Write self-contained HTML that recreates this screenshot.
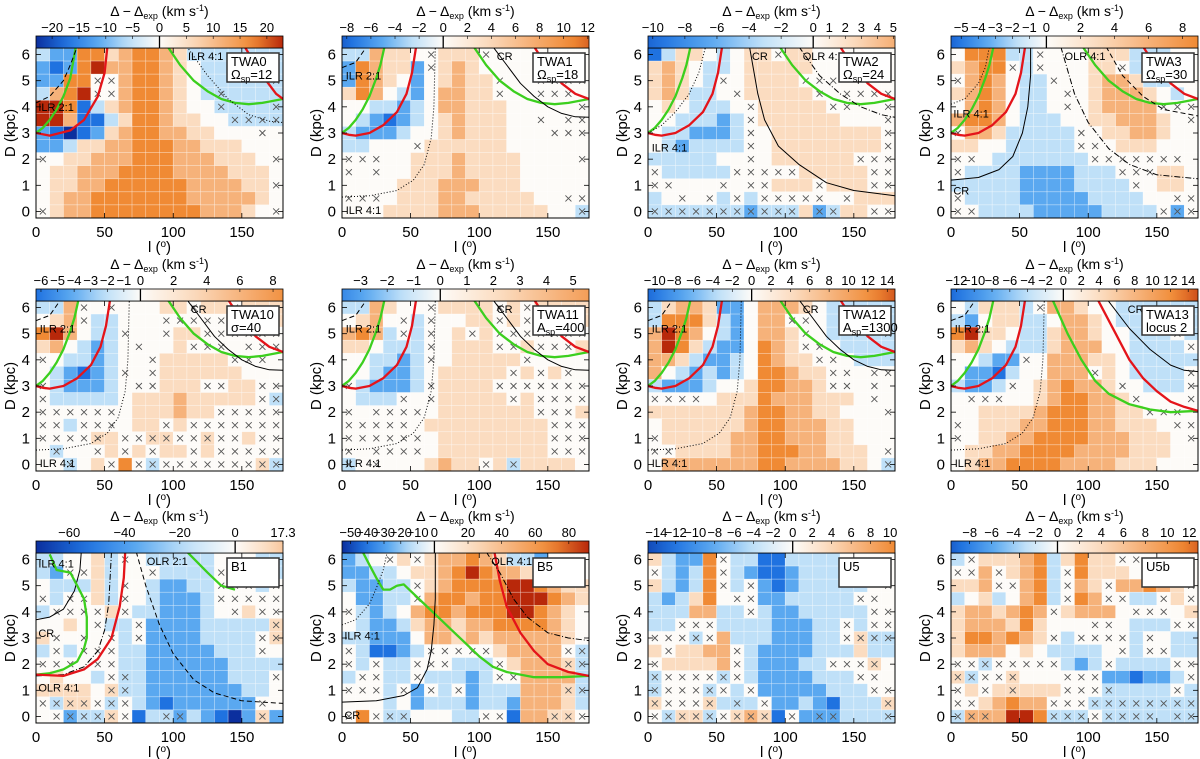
<!DOCTYPE html>
<html><head><meta charset="utf-8"><style>
html,body{margin:0;padding:0;background:#fff;}
svg{display:block;font-family:"Liberation Sans",sans-serif;}
</style></head><body>
<svg id="fig" width="1200" height="759" viewBox="0 0 1200 759" xmlns="http://www.w3.org/2000/svg"></svg>
<script>
// ---------- DATA (grid codes: '0'-'8' => level -4..+4 ; 'a'-'i' => same levels with cross) ----------
const lonCategories = [5,15,25,35,45,55,65,75,85,95,105,115,125,135,145,155,165,175];
const distCategories = [6,5.5,5,4.5,4,3.5,3,2.5,2,1.5,1,0.5,0];
const gridTWA0 = ["322775677653333333","212786677654333333","2277ee67765433333d","3678ee6776543d3333","8871356776544d333d","88611357765544dddd","2101256776655444e4","223556677766555444","e4556667776665554e","455666777766665554","45566777777666655e","456677777776666654","e5667777777766654e"];
const gridTWA1 = ["336554e555e4444444","276552e56544444444","27654245655e44eeee","57643246655e44eee4","44332346655544444e","43212345655544e4ee","322234456555444eee","33444e555555444444","eee44555655554444e","e4e445556555544444","444455566655544444","eee4555665555544ee","44455556665555544d"];
const gridTWA2 = ["135543455e55444444","565433455555444444","56543e45555eee4444","565334e55555e4eeee","4543334e55555ee44e","4433323e555555444e","4332223e455555555e","4323333e455555555e","3333344e4555555eee","e33333eeeee55555ee","ee444e4ee555e555ee","34e4e3e3eeeee4e555","dddddddcddd5cd55ee"];
const gridTWA3 = ["477733e44455533344","5677e3e44455e33344","e676433e4456653344","56764334e456665434","46764334e456666eee","67764333445566654e","e66533333e45566544","554433333ee4555444","ee43333333eeeeeee4","e33332222333eee554","3333322223333e4554","e333322222333344ee","ee3333222223333ece"];
const gridTWA10 = ["336e4e44455e55e555","456e33444eeeee5555","786433e44e55eeeeee","5643234e445eee4eee","e4332344e55555eee4","432123e4e555555444","e322234ee555ee55ee","e333334555655555ed","eeeeee4555655eeeee","ee3eee455e5eeeeeee","eeeef5eeffeefee5ee","4d44e5e5e55e5eeeee","44d45e7edeeeeeeefd"];
const gridTWA11 = ["336544e5555e5e5555","4564e3e4455e5ee555","6763e3e45e5eeeeeee","554333e4555ee5eee5","443323e455555e4444","443223455555e5e5e4","e32223e5555eeeeeee","4333e4e55555e5eeee","e4eeee45555555eee5","eeeee4555555555eee","eeeeee455555555eee","e4eeee455555555eee","d4e4445655e5d55554"];
const gridTWA12 = ["356652246665433333","3777532466ee433333","68764324665e43333d","68753224765ee43333","665322347655ee4333","6432323477655ee4ee","3222344577665ee4e4","eeee455576665554e4","55555556776655444e","455555567766655444","e55555667766655444","ee555566777665554e","46666666776666554d"];
const gridTWA13 = ["435553e66544333333","324553346654333333","7855433566544333e3","56543335666443333e","44322e466655433333","4221344666e543333e","3223e4567665e4333e","4eee445677665e444e","44555567776655eee4","e455566777665554ee","e4556677776665554e","455667777666655544","456677776666555444"];
const gridB1 = ["334453e43333344433","32ee5344e3333ee333","433353e432233eee3e","e3ee53e432223eeeee","3eeee5e3322234e5ee","4454e33e222233333f","5e4e4e3e22223333ef","3e3eee3322222333e4","eee4ee332222223333","45443ed3222222333e","55554fd32222222334","edffede321222222e4","4ecddfe13dc32102f2"];
const gridB5 = ["234e5e566765332444","223345567876654444","32233e567777887655","42233e677677888765","e32346776777887654","432235665667777654","332224665656666654","e31123eeeee56666ed","e3e33eee333e5666fd","3ee33e33323ee66663","eee3e2e3e2333666fd","444342333233266653","e7edd44433ee166ffe"];
const gridU5 = ["53227e331133334444","e3237e321123334444","53237e3e212333334e","323574ee2233333ee4","3336633e32233333ee","33eee333322233e3ee","eeede633322233efdd","5e5566e32222333533","e55556e322233eeef4","deeeede32222333ee4","deeede3e22222333ee","feeef3d3e22321333f","edffdefgf1e2cc333d"];
const gridU5b = ["3e5556735755ee4444","ee6e5673e755544444","556ee673e65e66765e","34534673e76ee33e5e","5665676e56664eee45","5666575444ee4333ee","5776765e3eeee3e433","566645433334e3ee33","eedeeeee323e3333ee","fdeef444eee221223e","e5e5f555eeed3333e3","ee56766eeedddddddd","dgg6887dddedddd3dd"];

const cbMin = [-23,-8.4,-10.3,-5.6,-6.3,-3.7,-10.7,-12.6,-72,-55,-14.85,-9.7];
const cbMax = [23,12.1,5.1,8.9,8.6,5.6,14.8,15.1,17.3,92,10.5,12.8];
const cbTicks = [
 [-20,-15,-10,-5,0,5,10,15,20],
 [-8,-6,-4,-2,0,2,4,6,8,10,12],
 [-10,-8,-6,-4,-2,0,1,2,3,4,5],
 [-5,-4,-3,-2,-1,0,2,4,6,8],
 [-6,-5,-4,-3,-2,-1,0,2,4,6,8],
 [-3,-2,-1,0,1,2,3,4,5],
 [-10,-8,-6,-4,-2,0,2,4,6,8,10,12,14],
 [-12,-10,-8,-6,-4,-2,0,2,4,6,8,10,12,14],
 [-60,-40,-20,0,17.3],
 [-50,-40,-30,-20,-10,0,20,40,60,80],
 [-14,-12,-10,-8,-6,-4,-2,0,2,4,6,8,10],
 [-8,-6,-4,-2,0,2,4,6,8,10,12]];
const cbLoT = [-4,-3.3,-3.2,-3.2,-3,-2.6,-3.1,-3.1,-4,-4,-3.6,-3.3];
const cbHiT = [4,3.4,2.1,3,2.8,2.5,3.5,3.6,1.5,4,3,3.4];
const grids = [gridTWA0,gridTWA1,gridTWA2,gridTWA3,gridTWA10,gridTWA11,gridTWA12,gridTWA13,gridB1,gridB5,gridU5,gridU5b];
const panelNames = ["TWA0","TWA1","TWA2","TWA3","TWA10","TWA11","TWA12","TWA13","B1","B5","U5","U5b"];
const legend2 = [["Ω","sp","=12"],["Ω","sp","=18"],["Ω","sp","=24"],["Ω","sp","=30"],["σ","","=40"],["A","sp","=400"],["A","sp","=1300"],["locus 2","",""],null,null,null,null];

// resonance curves: [l, D] pairs
const cGreenL = [[0,3],[5,3.2],[10,3.5],[15,3.9],[20,4.4],[25,5.1],[28,5.6],[31,6.3]];
const cRedL = [[0,3],[5,2.93],[10,2.9],[20,3.0],[30,3.3],[40,3.8],[47,4.5],[51,5.3],[54,6.3]];
const cGreenR = [[96,6.3],[105,5.6],[115,5.0],[125,4.6],[135,4.3],[145,4.15],[155,4.1],[165,4.15],[180,4.3]];
const cRedR = [[140,6.3],[150,5.5],[160,4.9],[170,4.5],[180,4.3]];
const cCR = [[110,6.3],[120,5.6],[130,4.9],[140,4.4],[150,4.0],[160,3.75],[170,3.62],[180,3.6]];
const cILR41 = [[0,0.55],[20,0.6],[40,0.8],[52,1.2],[60,1.8],[65,2.8],[67,4],[68,6.3]];
const cILR21 = [[0,5.5],[10,5.7],[18,6.3]];
const t0GreenL = [[0,3],[5,3.2],[10,3.5],[15,3.9],[20,4.4],[25,5.1],[29,6.3]];
const t0RedL = [[0,3],[10,2.9],[25,3.1],[35,3.5],[45,4.4],[50,5.3],[52,6.3]];
const t0Dash = [[0,4.15],[10,4.4],[20,5],[25,5.6],[30,6.3]];
const t0RedR = [[152,6.3],[165,5.2],[175,4.5],[180,4.3]];
const t0Dot = [[110,6.3],[125,5.2],[140,4.3],[155,3.7],[170,3.45],[180,3.4]];
const t2CR = [[74,6.3],[80,4.5],[85,3.5],[95,2.5],[110,1.8],[130,1.1],[150,0.8],[180,0.6]];
const t2Dot = [[0,3],[10,3.3],[20,3.8],[30,4.5],[37,5.3],[42,6.3]];
const t2DashDot = [[110,6.3],[125,5.2],[140,4.5],[155,4.0],[170,3.7],[180,3.6]];
const t3CR = [[0,1.2],[20,1.3],[35,1.6],[45,2.1],[52,3],[56,4],[58,5.2],[58,6.3]];
const t3Dot = [[0,4.1],[10,4.3],[20,4.9],[25,5.5],[28,6.3]];
const t3DashDot = [[80,6.3],[90,4.5],[100,3.4],[115,2.4],[130,1.8],[150,1.4],[180,1.25]];
const t3Dash = [[113,6.3],[125,5.2],[140,4.4],[155,3.9],[180,3.65]];
const t13GreenR = [[74,6.3],[85,5],[95,4],[105,3.2],[115,2.7],[130,2.3],[145,2.1],[160,2.0],[180,2.05]];
const t13RedR = [[107,6.3],[120,5],[130,4],[140,3.3],[150,2.8],[160,2.4],[170,2.2],[180,2.05]];
const t13CR = [[114,6.3],[130,5.2],[145,4.4],[160,3.8],[170,3.6],[180,3.55]];
const b1Black = [[0,3.7],[10,3.8],[20,4.1],[28,4.8],[32,5.6],[33,6.3]];
const b1Green = [[10,6.2],[15,5.6],[25,5.5],[30,5.0],[35,4.5],[37,3.8],[37,3.0],[35,2.6],[30,2.1],[20,1.8],[10,1.65],[0,1.6]];
const b1DashDot = [[0,1.55],[20,1.6],[35,1.9],[45,2.5],[50,3.3],[53,4.3],[55,6.3]];
const b1Red = [[0,1.6],[20,1.55],[35,1.8],[45,2.2],[55,3],[61,4.2],[64,5.3],[65,6.3]];
const b1Dash = [[73,6.3],[80,5],[90,3.5],[100,2.4],[115,1.4],[130,0.9],[150,0.6],[180,0.5]];
const b1GreenR = [[110,6.3],[125,5.5],[135,5],[145,4.85]];
const b5Green = [[15,6.3],[20,5.8],[25,5.3],[30,4.85],[35,4.85],[40,5.0],[45,5.05],[50,4.8],[60,4.3],[70,3.8],[80,3.3],[90,2.8],[100,2.3],[110,1.9],[120,1.7],[140,1.5],[160,1.5],[180,1.55]];
const b5CR = [[0,0.55],[25,0.6],[45,0.8],[55,1.1],[62,1.8],[65,2.5],[67,3.5],[68,4.5],[68,6.3]];
const b5Dot = [[0,3.5],[10,3.7],[20,4.3],[25,4.9],[30,5.6],[33,6.3]];
const b5Red = [[111,6.3],[115,5.2],[120,4.2],[130,3.2],[140,2.5],[150,2.0],[165,1.7],[180,1.55]];
const b5DashDot = [[105,6.3],[115,5.5],[125,4.5],[135,3.8],[150,3.2],[165,3.0],[180,2.9]];

const twaStd = [["g",cGreenL],["r",cRedL],["g",cGreenR],["r",cRedR],["k",cCR],["dot",cILR41],["dash",cILR21]];
const panelCurves = [
 [["g",t0GreenL],["r",t0RedL],["dash",t0Dash],["g",cGreenR],["r",t0RedR],["dot",t0Dot]],
 twaStd,
 [["g",cGreenL],["r",cRedL],["dot",t2Dot],["k",t2CR],["g",cGreenR],["r",cRedR],["dashdot",t2DashDot]],
 [["g",cGreenL],["r",cRedL],["dot",t3Dot],["k",t3CR],["dashdot",t3DashDot],["g",cGreenR],["r",cRedR],["dash",t3Dash]],
 twaStd, twaStd, twaStd,
 [["g",cGreenL],["r",cRedL],["dash",cILR21],["dot",cILR41],["g",t13GreenR],["r",t13RedR],["k",t13CR]],
 [["k",b1Black],["g",b1Green],["dashdot",b1DashDot],["r",b1Red],["dash",b1Dash],["g",b1GreenR]],
 [["g",b5Green],["k",b5CR],["dot",b5Dot],["r",b5Red],["dashdot",b5DashDot]],
 [],[]];
const stdLabels = [["ILR 2:1",2,5.2],["CR",112,5.95],["ILR 4:1",2,0.05]];
const panelLabels = [
 [["ILR 2:1",1,4.0],["ILR 4:1",110,5.95]],
 stdLabels,
 [["CR",75,5.95],["OLR 4:1",112,5.95],["ILR 4:1",2,2.45]],
 [["OLR 4:1",82,5.95],["ILR 4:1",1,3.75],["CR",1,0.8]],
 stdLabels, stdLabels, stdLabels,
 [["ILR 2:1",2,5.2],["CR",128,5.95],["ILR 4:1",2,0.05]],
 [["ILR 4:1",1,5.85],["CR",1,3.2],["OLR 2:1",80,5.95],["OLR 4:1",1,1.1]],
 [["OLR 4:1",108,5.95],["ILR 4:1",1,3.1],["CR",1,0.05]],
 [],[]];

// ---------- RENDER ----------
const NS="http://www.w3.org/2000/svg";
const svg=document.getElementById('fig');
const X0=[36,342,648,951], TOPS=[48,301,553], W=247, H=170;
const palette=["#0b2f9e","#1f72e0","#5aa8f0","#bfe0f8","#fdfbf8","#fbdcc0","#f6b27a","#f08a34","#b8280a"];
function hex2rgb(h){return [parseInt(h.slice(1,3),16),parseInt(h.slice(3,5),16),parseInt(h.slice(5,7),16)];}
function pal(t){let i=Math.max(0,Math.min(7.9999,t+4));const a=Math.floor(i),f=i-a;const c1=hex2rgb(palette[a]),c2=hex2rgb(palette[a+1]);
 return "rgb("+c1.map((v,k)=>Math.round(v+(c2[k]-v)*f)).join(",")+")";}
function el(tag,attrs,parent){const e=document.createElementNS(NS,tag);for(const k in attrs)e.setAttribute(k,attrs[k]);(parent||svg).appendChild(e);return e;}
const defs=el('defs',{});

grids.forEach((grid,p)=>{
 const col=p%4,row=Math.floor(p/4);
 const x0=X0[col], top=TOPS[row];
 const xS=l=>x0+l/180*W;
 const yS=d=>top+(6.25-d)/6.5*H;
 const g=el('g',{});
 
 
 const clip=el('clipPath',{id:'clip'+p},defs);
 el('rect',{x:x0,y:top,width:W,height:H},clip);
 // cells
 const cells=el('g',{'clip-path':'url(#clip'+p+')'},g);
 
 
 const crosses=[];
 distCategories.forEach((d,ri)=>{
  const rowStr=(grid[ri]||"").padEnd(18,'4');
  lonCategories.forEach((l,ci)=>{
   const ch=rowStr[ci];let lev,cross=false;
   if(ch>='0'&&ch<='8'){lev=ch.charCodeAt(0)-48-4;}else{lev=ch.charCodeAt(0)-97-4;cross=true;}
   const xa=xS(l-5),xb=xS(l+5),ya=yS(d+0.25),yb=yS(d-0.25);
   const r=el('rect',{x:xa,y:ya,width:xb-xa,height:yb-ya,fill:pal(lev),stroke:'rgba(255,255,255,0.45)','stroke-width':0.6},cells);
   
   
   if(cross)crosses.push([xS(l),yS(d)]);
  });
 });
 crosses.forEach(([cx,cy])=>{
  const c=el('path',{d:`M${cx-3},${cy-3}L${cx+3},${cy+3}M${cx-3},${cy+3}L${cx+3},${cy-3}`,stroke:'#555','stroke-width':0.9,fill:'none'},cells);
  
  
 });
 // curves
 panelCurves[p].forEach(([sty,pts])=>{
  const d=pts.map((q,i)=>(i?'L':'M')+xS(q[0]).toFixed(1)+','+yS(q[1]).toFixed(1)).join('');
  const at={d:d,fill:'none','stroke-linejoin':'round'};
  if(sty==='g'){at.stroke='#3ccf1e';at['stroke-width']=2.3;}
  else if(sty==='r'){at.stroke='#e4141a';at['stroke-width']=2.3;}
  else{at.stroke='#000';at['stroke-width']=1;
   if(sty==='dot')at['stroke-dasharray']='1,2';
   if(sty==='dash')at['stroke-dasharray']='5,3';
   if(sty==='dashdot')at['stroke-dasharray']='6,2,1,2';}
  const c=el('path',at,cells);
  
  
 });
 panelLabels[p].forEach(([t,l,d])=>{
  const tx=el('text',{x:xS(l)+1,y:yS(d)+4,'font-size':11,fill:'#000'},cells);
  tx.textContent=t;
  
  
 });
 // frame
 const fr=el('rect',{x:x0,y:top,width:W,height:H,fill:'none',stroke:'#000','stroke-width':1},g);
 
 
 // axis ticks
 [0,50,100,150].forEach(v=>{
  el('line',{x1:xS(v),x2:xS(v),y1:top+H,y2:top+H-5,stroke:'#000','stroke-width':0.8},g);
  el('line',{x1:xS(v),x2:xS(v),y1:top,y2:top+5,stroke:'#000','stroke-width':0.8},g);
  const t=el('text',{x:xS(v),y:top+H+19,'font-size':15,'text-anchor':'middle'},g);
  t.textContent=v;
  
  
 });
 for(let v=0;v<=6;v++){
  el('line',{x1:x0,x2:x0+5,y1:yS(v),y2:yS(v),stroke:'#000','stroke-width':0.8},g);
  el('line',{x1:x0+W,x2:x0+W-5,y1:yS(v),y2:yS(v),stroke:'#000','stroke-width':0.8},g);
  const t=el('text',{x:x0-6,y:yS(v)+5,'font-size':15,'text-anchor':'end'},g);
  t.textContent=v;
  
  
 }
 const xl=el('text',{x:x0+W/2,y:top+H+34,'font-size':15,'text-anchor':'middle'},g);
 xl.innerHTML='l (<tspan baseline-shift="super" font-size="10">o</tspan>)';
 
 
 const yl=el('text',{x:0,y:0,'font-size':15,'text-anchor':'middle',transform:`translate(${x0-21},${top+H/2}) rotate(-90)`},g);
 yl.textContent='D (kpc)';
 
 
 // legend box
 const lb=el('g',{},g);
 
 
 el('rect',{x:x0+191,y:top+5,width:52,height:29,fill:'#fff',stroke:'#333','stroke-width':1.5},lb);
 const n1=el('text',{x:x0+195,y:top+18,'font-size':13},lb);n1.textContent=panelNames[p];
 if(legend2[p]){const L2=legend2[p];const n2=el('text',{x:x0+195,y:top+31,'font-size':13},lb);
  n2.innerHTML=L2[0]+(L2[1]?'<tspan font-size="9" dy="3">'+L2[1]+'</tspan><tspan dy="-3">'+L2[2]+'</tspan>':L2[2]);}
 // colorbar
 const cbTop=top-12, vmin=cbMin[p], vmax=cbMax[p];
 const cS=v=>x0+(v-vmin)/(vmax-vmin)*W;
 const zf=(0-vmin)/(vmax-vmin);
 const grad=el('linearGradient',{id:'cb'+p,x1:0,x2:1,y1:0,y2:0},defs);
 for(let k=0;k<=10;k++){const f=k/10;el('stop',{offset:(f*zf*100)+'%','stop-color':pal(cbLoT[p]*(1-f))},grad);}
 for(let k=1;k<=10;k++){const f=k/10;el('stop',{offset:((zf+f*(1-zf))*100)+'%','stop-color':pal(cbHiT[p]*f)},grad);}
 const cb=el('rect',{x:x0,y:cbTop,width:W,height:12,fill:'url(#cb'+p+')',stroke:'#000','stroke-width':0.8},g);
 
 
 el('line',{x1:cS(0),x2:cS(0),y1:cbTop,y2:cbTop+12,stroke:'#000','stroke-width':1.3},g);
 cbTicks[p].forEach(v=>{
  el('line',{x1:cS(v),x2:cS(v),y1:cbTop,y2:cbTop+3,stroke:'#000','stroke-width':0.6},g);
  const t=el('text',{x:cS(v),y:cbTop-4,'font-size':13,'text-anchor':'middle'},g);
  t.textContent=String(v).replace('-','\u2212');
  
  
 });
 const ct=el('text',{x:x0+W/2,y:cbTop-20,'font-size':14,'text-anchor':'middle'},g);
 ct.innerHTML='Δ  − Δ<tspan font-size="9" dy="3">exp</tspan><tspan dy="-3">  (km s</tspan><tspan font-size="9" dy="-5">-1</tspan><tspan dy="5">)</tspan>';
 
 
});
</script>
</body></html>
